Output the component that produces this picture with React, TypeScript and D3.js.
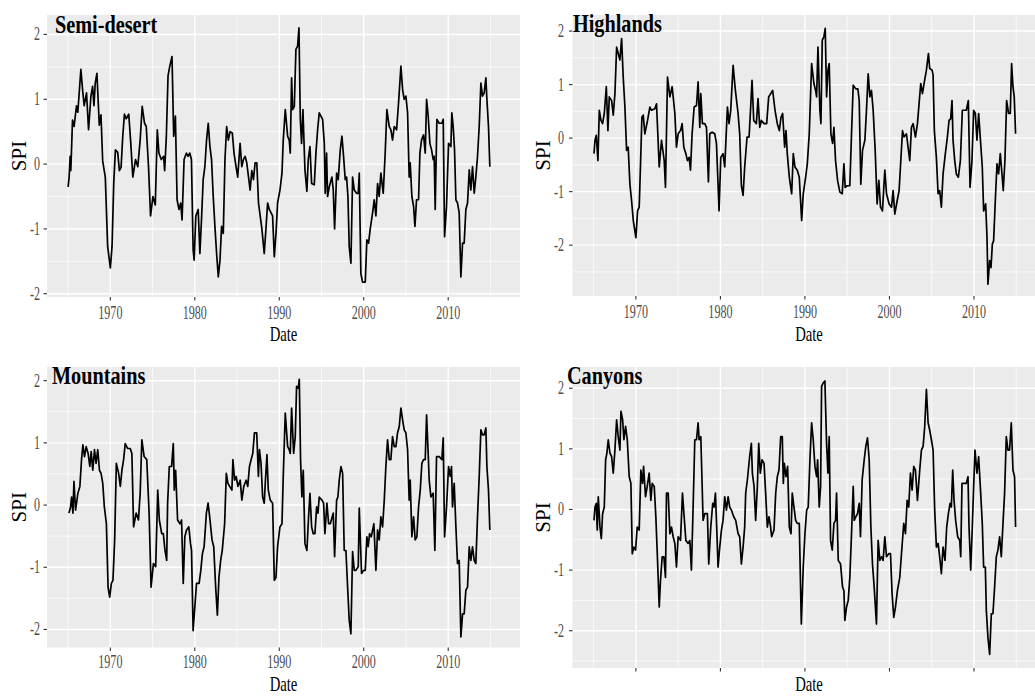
import React from 'react';
import * as d3 from 'd3';

// Regions, axis ticks
const regions = ['Semi-desert', 'Highlands', 'Mountains', 'Canyons'];
const xTickYears = [1970, 1980, 1990, 2000, 2010];
const xMinorYears = [1965, 1975, 1985, 1995, 2005, 2015];
const yTickValues = [-2, -1, 0, 1, 2];
const yMinorValues = [-2.5, -1.5, -0.5, 0.5, 1.5];

// SPI series: [decimal year, SPI]
const semiDesertSPI: [number, number][] = [
  [1965.0, -0.35], [1965.12, -0.2], [1965.24, 0.12], [1965.32, -0.1], [1965.52, 0.68], [1965.71, 0.58], [1965.99, 0.9], [1966.15, 0.8],
  [1966.51, 1.46], [1966.71, 1.15], [1966.9, 0.9], [1967.18, 1.1], [1967.42, 0.53], [1967.7, 1.05], [1967.9, 1.2], [1968.06, 0.9],
  [1968.21, 1.25], [1968.41, 1.4], [1968.69, 0.6], [1968.89, 0.76], [1969.09, 0.05], [1969.4, -0.2], [1969.68, -1.27], [1970.0, -1.6],
  [1970.2, -1.27], [1970.4, -0.3], [1970.6, 0.22], [1970.87, 0.18], [1971.07, -0.1], [1971.27, -0.05], [1971.47, 0.43], [1971.67, 0.77],
  [1971.87, 0.7], [1972.18, 0.77], [1972.42, 0.32], [1972.66, -0.2], [1972.98, 0.07], [1973.25, -0.04], [1973.53, 0.37], [1973.77, 0.89],
  [1974.05, 0.63], [1974.25, 0.58], [1974.52, -0.04], [1974.76, -0.8], [1975.04, -0.5], [1975.32, -0.63], [1975.56, 0.53], [1975.75, 0.17],
  [1976.03, 0.07], [1976.31, 0.12], [1976.43, -0.1], [1976.63, 0.43], [1976.83, 1.36], [1977.02, 1.5], [1977.3, 1.66], [1977.5, 0.43],
  [1977.7, 0.74], [1977.9, -0.55], [1978.13, -0.7], [1978.33, -0.6], [1978.49, -0.86], [1978.73, 0.07], [1979.01, 0.17], [1979.21, 0.12],
  [1979.4, 0.17], [1979.6, 0.07], [1979.8, -1.32], [1979.92, -1.48], [1980.12, -0.8], [1980.4, -0.7], [1980.6, -1.38], [1980.79, -0.86],
  [1980.99, -0.24], [1981.19, -0.04], [1981.39, 0.37], [1981.59, 0.63], [1981.79, 0.27], [1981.98, 0.07], [1982.18, -0.5], [1982.38, -0.96],
  [1982.58, -1.38], [1982.78, -1.74], [1982.98, -1.48], [1983.17, -0.96], [1983.37, -1.07], [1983.57, 0.07], [1983.77, 0.58], [1983.97, 0.37],
  [1984.17, 0.5], [1984.44, 0.48], [1984.64, 0.17], [1984.88, -0.04], [1985.08, -0.2], [1985.36, 0.32], [1985.56, -0.04], [1985.75, 0.07],
  [1985.95, 0.12], [1986.15, 0.02], [1986.55, -0.4], [1986.75, -0.1], [1986.94, -0.24], [1987.14, 0.02], [1987.34, 0.02], [1987.54, -0.6],
  [1987.74, -0.8], [1987.94, -1.0], [1988.22, -1.38], [1988.42, -1.0], [1988.62, -0.6], [1988.82, -0.7], [1989.21, -0.8], [1989.41, -1.43],
  [1989.61, -1.07], [1989.8, -0.6], [1990.08, -0.4], [1990.32, -0.14], [1990.47, 0.37], [1990.71, 0.84], [1990.99, 0.43], [1991.18, 0.37],
  [1991.3, 0.17], [1991.46, 1.33], [1991.58, 0.84], [1991.78, 0.89], [1991.97, 1.77], [1992.17, 1.82], [1992.33, 2.1], [1992.49, 0.69],
  [1992.64, 0.32], [1992.8, 0.84], [1993.04, -0.09], [1993.27, -0.42], [1993.43, 0.07], [1993.63, 0.27], [1993.83, -0.3], [1994.14, -0.32],
  [1994.34, 0.17], [1994.54, 0.53], [1994.73, 0.79], [1995.13, 0.69], [1995.33, 0.32], [1995.44, -0.45], [1995.6, 0.17], [1995.72, -0.5],
  [1995.92, -0.35], [1996.23, -0.2], [1996.39, -0.4], [1996.55, -1.0], [1996.79, -0.14], [1996.98, -0.24], [1997.22, 0.22], [1997.42, 0.43],
  [1997.61, 0.12], [1997.81, -0.24], [1997.97, -0.2], [1998.13, -0.5], [1998.28, -1.27], [1998.48, -1.53], [1998.68, -0.2], [1998.88, -0.4],
  [1999.15, -0.45], [1999.35, -0.45], [1999.47, -0.14], [1999.66, -1.69], [1999.86, -1.82], [2000.18, -1.82], [2000.37, -1.17], [2000.57, -1.22],
  [2000.77, -1.0], [2001.05, -0.75], [2001.24, -0.55], [2001.44, -0.8], [2001.64, -0.3], [2001.83, -0.5], [2002.03, -0.14], [2002.31, -0.45],
  [2002.54, 0.17], [2002.74, 0.84], [2003.02, 0.58], [2003.21, 0.53], [2003.41, 0.37], [2003.61, 0.58], [2003.89, 0.53], [2004.12, 0.94],
  [2004.4, 1.51], [2004.6, 1.15], [2004.79, 1.0], [2004.99, 1.05], [2005.19, 0.79], [2005.38, -0.2], [2005.5, 0.02], [2005.7, -0.5],
  [2005.9, -0.65], [2006.06, -0.96], [2006.25, -0.55], [2006.49, -0.55], [2006.65, 0.17], [2006.84, 0.37], [2007.08, 0.45], [2007.28, 0.17],
  [2007.44, 1.0], [2007.63, 0.74], [2007.83, 0.32], [2008.03, 0.22], [2008.22, 0.07], [2008.34, 0.12], [2008.46, -0.7], [2008.66, 0.69],
  [2008.93, 0.63], [2009.25, 0.63], [2009.41, 0.69], [2009.57, -1.12], [2009.8, -0.65], [2010.04, 0.32], [2010.32, 0.27], [2010.43, 0.79],
  [2010.59, 0.58], [2010.75, 0.22], [2010.91, -0.55], [2011.1, -0.6], [2011.3, -0.75], [2011.5, -1.74], [2011.7, -1.22], [2011.89, -1.22],
  [2012.09, -0.7], [2012.29, -0.6], [2012.49, -0.09], [2012.68, -0.4], [2012.88, -0.04], [2013.08, -0.45], [2013.27, -0.2], [2013.47, 0.12],
  [2013.67, 0.58], [2013.87, 1.25], [2014.06, 1.05], [2014.26, 1.1], [2014.46, 1.33], [2014.58, 1.0], [2014.77, 0.58], [2014.93, -0.04],
];

const highlandsSPI: [number, number][] = [
  [1965.04, -0.29], [1965.16, -0.04], [1965.31, 0.05], [1965.51, -0.42], [1965.67, 0.52], [1965.87, 0.33], [1966.06, 0.27], [1966.26, 0.46],
  [1966.5, 0.96], [1966.69, 0.14], [1966.85, 0.77], [1967.13, 0.7], [1967.32, 0.43], [1967.52, 0.83], [1967.72, 1.7], [1967.91, 1.58],
  [1968.11, 1.46], [1968.31, 1.86], [1968.5, 1.14], [1968.7, 0.58], [1968.9, -0.23], [1969.09, -0.17], [1969.29, -0.86], [1969.49, -1.17],
  [1969.69, -1.54], [1970.0, -1.86], [1970.2, -1.36], [1970.39, -1.29], [1970.55, -0.48], [1970.71, 0.39], [1970.87, 0.43], [1971.06, 0.08],
  [1971.38, 0.33], [1971.65, 0.58], [1971.85, 0.52], [1972.24, 0.55], [1972.44, 0.64], [1972.76, -0.54], [1973.03, -0.04], [1973.35, -0.42],
  [1973.5, -0.92], [1973.74, 1.14], [1974.02, 0.77], [1974.29, 0.96], [1974.61, 0.46], [1974.8, -0.17], [1975.0, 0.08], [1975.28, 0.14],
  [1975.47, 0.27], [1975.67, -0.17], [1975.91, -0.29], [1976.1, -0.42], [1976.3, -0.36], [1976.46, -0.6], [1976.65, 0.08], [1976.89, 0.58],
  [1977.17, 0.61], [1977.36, 1.05], [1977.56, 0.2], [1977.68, 0.83], [1977.87, 0.27], [1978.15, 0.27], [1978.35, 0.2], [1978.58, -0.82],
  [1978.74, 0.08], [1979.02, 0.11], [1979.33, 0.08], [1979.53, -0.1], [1979.72, -0.86], [1979.84, -1.36], [1980.04, -0.36], [1980.31, -0.29],
  [1980.51, -0.54], [1980.83, 0.58], [1981.02, 0.27], [1981.22, 0.52], [1981.5, 1.36], [1981.77, 0.89], [1982.09, 0.46], [1982.28, 0.08],
  [1982.48, -0.89], [1982.68, -1.07], [1982.87, -0.54], [1983.15, 0.02], [1983.39, 0.02], [1983.58, 0.58], [1983.74, 1.08], [1983.94, 0.33],
  [1984.25, 0.27], [1984.45, 0.74], [1984.65, 0.2], [1984.84, 0.33], [1985.16, 0.27], [1985.47, 0.27], [1985.71, 0.77], [1986.18, 0.89],
  [1986.46, 0.52], [1986.73, 0.27], [1986.97, 0.14], [1987.17, 0.39], [1987.36, 0.46], [1987.6, -0.17], [1987.76, 0.14], [1987.91, -0.29],
  [1988.15, -0.73], [1988.43, -1.04], [1988.62, -0.29], [1988.82, -0.54], [1989.09, -0.6], [1989.33, -0.73], [1989.61, -1.54], [1989.8, -1.04],
  [1990.08, -0.73], [1990.28, -0.48], [1990.51, 0.08], [1990.79, 1.39], [1991.06, 1.02], [1991.26, 0.89], [1991.38, 0.77], [1991.54, 1.7],
  [1991.77, 0.52], [1991.89, 0.27], [1992.05, 1.83], [1992.24, 1.89], [1992.4, 2.05], [1992.56, 0.77], [1992.72, 1.27], [1992.87, 1.39],
  [1993.07, 0.08], [1993.27, -0.1], [1993.43, 0.2], [1993.62, -0.42], [1993.86, -0.79], [1994.13, -1.01], [1994.41, -1.04], [1994.61, -0.48],
  [1994.76, -0.92], [1995.0, -0.89], [1995.31, -0.89], [1995.51, 0.08], [1995.71, 0.99], [1996.02, 0.92], [1996.26, 0.92], [1996.42, 0.7],
  [1996.61, -0.86], [1996.81, -0.23], [1997.09, -0.04], [1997.28, 0.52], [1997.48, 1.2], [1997.68, 0.77], [1997.87, 0.89], [1998.07, 0.52],
  [1998.31, -0.23], [1998.54, -1.23], [1998.74, -0.79], [1998.94, -1.29], [1999.17, -1.36], [1999.45, -0.6], [1999.65, -1.04], [1999.96, -1.23],
  [2000.24, -1.29], [2000.43, -0.98], [2000.63, -1.42], [2000.91, -1.17], [2001.14, -0.98], [2001.34, -0.42], [2001.54, 0.14], [2001.73, 0.02],
  [2002.01, 0.08], [2002.2, -0.17], [2002.4, -0.42], [2002.6, 0.2], [2002.8, 0.27], [2003.07, 0.02], [2003.31, 0.27], [2003.5, 0.64],
  [2003.7, 1.02], [2003.9, 0.83], [2004.09, 1.02], [2004.37, 1.27], [2004.61, 1.58], [2004.76, 1.3], [2005.04, 1.27], [2005.16, 1.18],
  [2005.31, 0.14], [2005.55, -0.36], [2005.75, -1.04], [2005.94, -0.98], [2006.14, -1.29], [2006.34, -0.67], [2006.61, -0.29], [2006.85, 0.02],
  [2007.05, 0.33], [2007.24, 0.36], [2007.4, 0.7], [2007.52, -0.04], [2007.72, -0.42], [2007.91, -0.67], [2008.15, -0.73], [2008.39, -0.42],
  [2008.62, 0.52], [2008.9, 0.52], [2009.09, 0.52], [2009.33, 0.7], [2009.53, -0.92], [2009.76, -0.42], [2009.96, 0.52], [2010.16, 0.46],
  [2010.35, -0.04], [2010.55, 0.46], [2010.79, -0.1], [2010.98, -0.54], [2011.14, -1.36], [2011.38, -1.23], [2011.54, -1.86], [2011.65, -2.73],
  [2011.85, -2.29], [2012.01, -2.42], [2012.17, -1.98], [2012.32, -1.92], [2012.52, -1.17], [2012.72, -0.48], [2012.91, -0.67], [2013.11, -0.29],
  [2013.31, -0.67], [2013.46, -0.98], [2013.66, -0.42], [2013.86, 0.7], [2014.09, 0.46], [2014.29, 0.46], [2014.45, 1.39], [2014.61, 0.96],
  [2014.76, 0.77], [2014.92, 0.08],
];

const mountainsSPI: [number, number][] = [
  [1965.1, -0.13], [1965.29, -0.03], [1965.41, 0.13], [1965.57, -0.13], [1965.69, 0.38], [1965.88, -0.08], [1966.16, 0.19], [1966.39, 0.3],
  [1966.59, 0.73], [1966.75, 0.97], [1966.94, 0.78], [1967.14, 0.94], [1967.37, 0.83], [1967.57, 0.62], [1967.73, 0.86], [1967.92, 0.56],
  [1968.12, 0.89], [1968.31, 0.67], [1968.51, 0.89], [1968.71, 0.56], [1968.9, 0.51], [1969.1, 0.35], [1969.29, -0.03], [1969.53, -0.3],
  [1969.73, -1.32], [1969.92, -1.48], [1970.12, -1.26], [1970.31, -1.21], [1970.51, -0.56], [1970.71, 0.67], [1970.98, 0.51], [1971.18, 0.3],
  [1971.37, 0.56], [1971.57, 0.73], [1971.76, 0.99], [1972.04, 0.91], [1972.35, 0.91], [1972.55, 0.83], [1972.75, -0.35], [1973.06, -0.13],
  [1973.33, -0.24], [1973.53, 0.19], [1973.73, 1.05], [1974.0, 0.78], [1974.31, 0.73], [1974.59, -0.13], [1974.82, -1.32], [1975.1, -0.94],
  [1975.37, -0.99], [1975.61, 0.24], [1975.8, -0.24], [1976.08, -0.46], [1976.27, -0.46], [1976.47, -0.73], [1976.67, -0.89], [1976.78, 0.03],
  [1976.98, 0.62], [1977.25, 0.62], [1977.45, 0.99], [1977.57, 0.24], [1977.73, 0.56], [1977.96, -0.24], [1978.24, -0.3], [1978.43, -0.24],
  [1978.63, -1.26], [1978.82, -0.51], [1979.02, -0.4], [1979.29, -0.35], [1979.49, -0.62], [1979.61, -0.73], [1979.8, -2.02], [1980.0, -1.64],
  [1980.2, -1.26], [1980.51, -1.26], [1980.71, -1.05], [1980.9, -0.78], [1981.1, -0.67], [1981.37, -0.13], [1981.57, 0.03], [1981.76, -0.19],
  [1982.04, -0.56], [1982.24, -0.67], [1982.47, -1.32], [1982.67, -1.77], [1982.86, -1.16], [1983.06, -0.89], [1983.25, -0.73], [1983.53, -0.3],
  [1983.73, 0.51], [1983.92, 0.35], [1984.12, 0.3], [1984.39, 0.24], [1984.51, 0.73], [1984.71, 0.4], [1984.9, 0.46], [1985.1, 0.3],
  [1985.37, 0.4], [1985.57, 0.08], [1985.8, 0.3], [1986.08, 0.4], [1986.27, 0.3], [1986.47, 0.62], [1986.67, 0.73], [1986.86, 0.83],
  [1987.06, 1.16], [1987.33, 1.16], [1987.53, 0.46], [1987.65, 0.89], [1987.84, 0.67], [1988.03, 0.13], [1988.22, 0.03], [1988.34, 0.35],
  [1988.54, 0.81], [1988.7, 0.24], [1988.93, 0.08], [1989.21, 0.03], [1989.41, -1.21], [1989.61, -1.16], [1989.8, -0.67], [1990.08, -0.35],
  [1990.32, -0.3], [1990.47, 0.46], [1990.71, 1.48], [1990.99, 0.94], [1991.18, 0.89], [1991.3, 0.83], [1991.46, 1.56], [1991.7, 0.83],
  [1991.89, 1.1], [1992.05, 1.91], [1992.25, 1.88], [1992.37, 2.02], [1992.52, 0.73], [1992.68, 0.13], [1992.84, 0.56], [1993.04, -0.62],
  [1993.27, -0.73], [1993.47, -0.19], [1993.63, 0.19], [1993.83, -0.35], [1994.02, -0.46], [1994.22, -0.46], [1994.42, -0.03], [1994.58, -0.13],
  [1994.73, 0.13], [1995.05, 0.08], [1995.25, 0.03], [1995.4, -0.46], [1995.64, 0.03], [1995.84, -0.3], [1996.04, -0.3], [1996.39, -0.13],
  [1996.55, -0.83], [1996.79, 0.08], [1996.94, 0.13], [1997.1, 0.4], [1997.3, 0.62], [1997.5, 0.51], [1997.69, -0.73], [1997.89, -0.73],
  [1998.09, -1.32], [1998.28, -1.85], [1998.48, -2.07], [1998.68, -0.75], [1998.88, -1.05], [1999.07, -1.05], [1999.35, -0.99], [1999.47, -0.05],
  [1999.74, -1.1], [1999.98, -1.05], [2000.18, -1.05], [2000.37, -0.51], [2000.53, -0.67], [2000.69, -0.46], [2000.89, -0.51], [2001.2, -0.3],
  [2001.44, -1.05], [2001.64, -0.4], [2001.83, -0.56], [2002.03, -0.19], [2002.23, -0.35], [2002.43, 0.08], [2002.62, 0.62], [2002.82, 1.05],
  [2003.02, 0.73], [2003.21, 0.73], [2003.41, 1.1], [2003.61, 0.94], [2003.81, 0.94], [2004.0, 1.16], [2004.2, 1.26], [2004.4, 1.56],
  [2004.6, 1.37], [2004.79, 1.21], [2004.99, 1.16], [2005.19, 0.89], [2005.38, 0.08], [2005.5, 0.4], [2005.7, -0.51], [2005.9, -0.19],
  [2006.09, -0.56], [2006.29, -0.51], [2006.49, -0.03], [2006.69, 0.24], [2006.88, 0.67], [2007.08, 0.73], [2007.28, 0.73], [2007.44, 1.45],
  [2007.63, 0.83], [2007.75, 0.4], [2007.95, 0.13], [2008.22, 0.19], [2008.42, -0.73], [2008.62, 0.78], [2008.93, 0.78], [2009.25, 0.73],
  [2009.41, 1.08], [2009.57, -0.51], [2009.8, -0.03], [2010.04, 0.62], [2010.24, 0.46], [2010.39, 0.62], [2010.51, -0.03], [2010.71, 0.35],
  [2010.91, -0.35], [2011.1, -0.94], [2011.3, -0.89], [2011.5, -2.12], [2011.7, -1.75], [2011.89, -1.75], [2012.09, -1.37], [2012.29, -1.32],
  [2012.49, -0.67], [2012.68, -0.89], [2012.88, -0.67], [2013.08, -0.89], [2013.27, -0.94], [2013.47, -0.19], [2013.67, 0.46], [2013.87, 1.21],
  [2014.06, 1.13], [2014.26, 1.13], [2014.46, 1.24], [2014.58, 0.62], [2014.77, 0.24], [2014.93, -0.4],
];

const canyonsSPI: [number, number][] = [
  [1965.04, -0.18], [1965.16, 0.04], [1965.31, 0.1], [1965.43, -0.34], [1965.55, 0.21], [1965.75, -0.29], [1965.91, -0.48], [1966.06, -0.07],
  [1966.26, 0.04], [1966.42, 0.82], [1966.57, 0.93], [1966.73, 1.15], [1966.93, 0.93], [1967.13, 0.87], [1967.32, 0.6], [1967.52, 0.98],
  [1967.72, 1.48], [1967.91, 1.2], [1968.11, 0.98], [1968.23, 1.62], [1968.43, 1.48], [1968.58, 1.15], [1968.78, 1.37], [1968.98, 1.15],
  [1969.21, 0.54], [1969.41, 0.43], [1969.57, -0.73], [1969.76, -0.62], [1969.96, -0.67], [1970.16, -0.29], [1970.39, -0.34], [1970.59, 0.65],
  [1970.79, 0.43], [1970.91, 0.71], [1971.14, 0.21], [1971.34, 0.38], [1971.57, 0.6], [1971.77, 0.15], [1971.93, 0.43], [1972.17, 0.38],
  [1972.36, -0.12], [1972.56, -0.84], [1972.76, -1.61], [1972.91, -1.17], [1973.11, -0.78], [1973.31, -0.78], [1973.5, -1.12], [1973.62, 0.27],
  [1973.82, 0.27], [1974.02, -0.4], [1974.21, -0.29], [1974.41, -0.45], [1974.61, -0.56], [1974.8, -0.95], [1975.0, -0.45], [1975.28, -0.51],
  [1975.51, 0.27], [1975.71, -0.12], [1975.91, -0.51], [1976.18, -0.56], [1976.38, -0.51], [1976.57, -1.0], [1976.77, 0.04], [1976.97, 1.15],
  [1977.17, 1.15], [1977.36, 1.43], [1977.48, 1.15], [1977.68, 1.2], [1977.95, -0.18], [1978.15, -0.07], [1978.46, -0.07], [1978.62, -0.9],
  [1978.86, -0.29], [1979.09, 0.1], [1979.25, 0.04], [1979.41, 0.27], [1979.57, -0.34], [1979.72, -0.95], [1979.92, -0.62], [1980.12, -0.34],
  [1980.31, -0.18], [1980.51, 0.21], [1980.71, -0.01], [1980.91, 0.21], [1981.1, 0.04], [1981.3, -0.01], [1981.57, -0.12], [1981.81, -0.18],
  [1982.09, -0.4], [1982.28, -0.45], [1982.48, -0.9], [1982.68, -0.62], [1982.87, -0.29], [1982.99, 0.27], [1983.19, 0.49], [1983.46, 0.87],
  [1983.66, 1.09], [1983.78, 0.6], [1983.98, 0.38], [1984.17, -0.18], [1984.37, 0.38], [1984.53, 1.09], [1984.72, 0.6], [1984.92, 0.82],
  [1985.16, 0.76], [1985.35, 0.27], [1985.55, -0.29], [1985.75, -0.12], [1985.94, -0.29], [1986.06, -0.45], [1986.34, -0.34], [1986.54, 0.27],
  [1986.73, 0.54], [1986.93, 0.65], [1987.13, 1.2], [1987.32, 1.2], [1987.44, 0.43], [1987.56, 0.76], [1987.76, 0.54], [1987.95, 0.71],
  [1988.15, -0.29], [1988.35, -0.4], [1988.5, 0.27], [1988.7, 0.04], [1988.9, -0.18], [1989.09, -0.23], [1989.33, -0.23], [1989.57, -1.89],
  [1989.8, -0.95], [1990.0, -0.4], [1990.2, -0.01], [1990.39, 0.04], [1990.59, 0.82], [1990.79, 1.43], [1990.98, 1.15], [1991.18, 0.71],
  [1991.38, 0.54], [1991.5, 0.82], [1991.69, 0.04], [1991.85, 0.38], [1991.97, 2.03], [1992.17, 2.09], [1992.36, 2.12], [1992.56, 1.09],
  [1992.72, 0.6], [1992.87, 1.2], [1993.03, -0.51], [1993.23, -0.67], [1993.43, -0.23], [1993.62, -0.18], [1993.74, 0.27], [1993.94, -0.84],
  [1994.21, -0.9], [1994.45, -1.28], [1994.61, -1.34], [1994.72, -1.83], [1994.92, -1.61], [1995.12, -1.5], [1995.31, -1.12], [1995.51, -0.4],
  [1995.71, 0.38], [1995.83, -0.18], [1996.02, -0.12], [1996.22, -0.07], [1996.42, 0.1], [1996.57, -0.45], [1996.77, 0.49], [1997.01, 0.82],
  [1997.2, 1.04], [1997.4, 1.18], [1997.6, 0.82], [1997.8, -0.29], [1997.99, -0.9], [1998.19, -1.28], [1998.46, -1.89], [1998.66, -0.51],
  [1998.86, -0.84], [1999.06, -0.78], [1999.25, -0.84], [1999.45, -0.45], [1999.65, -0.78], [1999.92, -0.73], [2000.12, -0.73], [2000.31, -1.39],
  [2000.51, -1.78], [2000.71, -1.61], [2000.94, -1.34], [2001.22, -1.12], [2001.42, -0.73], [2001.69, -0.23], [2001.89, -0.4], [2002.09, 0.15],
  [2002.28, 0.04], [2002.48, 0.6], [2002.68, 0.32], [2002.87, 0.71], [2003.07, 0.65], [2003.31, 0.15], [2003.58, 0.65], [2003.78, 0.98],
  [2003.98, 1.04], [2004.17, 1.37], [2004.37, 1.98], [2004.57, 1.43], [2004.76, 1.31], [2004.96, 1.15], [2005.16, 0.98], [2005.35, -0.01],
  [2005.55, -0.62], [2005.75, -0.56], [2005.94, -0.78], [2006.14, -1.06], [2006.34, -0.62], [2006.57, -0.84], [2006.77, -0.29], [2006.97, -0.07],
  [2007.17, 0.1], [2007.32, 0.04], [2007.48, 0.65], [2007.64, 0.15], [2007.83, -0.18], [2008.07, -0.45], [2008.31, -0.51], [2008.43, -0.78],
  [2008.58, 0.43], [2008.82, 0.43], [2009.09, 0.43], [2009.29, 0.54], [2009.41, -0.29], [2009.61, -1.0], [2009.8, -0.29], [2009.96, 0.38],
  [2010.12, 0.98], [2010.35, 0.6], [2010.55, 0.87], [2010.79, 0.27], [2010.98, -0.23], [2011.14, -0.95], [2011.34, -0.95], [2011.46, -1.67],
  [2011.65, -2.11], [2011.85, -2.39], [2012.05, -1.72], [2012.24, -1.72], [2012.44, -1.28], [2012.64, -0.78], [2012.83, -0.67], [2013.03, -0.45],
  [2013.23, -0.78], [2013.43, -0.23], [2013.62, 0.27], [2013.82, 1.2], [2014.02, 0.98], [2014.21, 0.98], [2014.41, 1.43], [2014.61, 0.65],
  [2014.8, 0.54], [2014.92, -0.29],
];

const seriesByRegion = [semiDesertSPI, highlandsSPI, mountainsSPI, canyonsSPI];

// frame of each panel on the page
const panels = [
  { left: 47, right: 520, top: 15, bottom: 297, xDomain: [1962.5, 2018.5], yDomain: [-2.05, 2.3], xLabels: true, xLabelGap: 21.5, titleX: 55, titleY: 32.5, spiX: 25.5, yLabelX: 40, dateX: 283.5, dateY: 341 },
  { left: 572.5, right: 1045, top: 15, bottom: 296, xDomain: [1962.5, 2018.4], yDomain: [-2.95, 2.3], xLabels: true, xLabelGap: 21.5, titleX: 573, titleY: 32, spiX: 549.5, yLabelX: 564, dateX: 809, dateY: 341 },
  { left: 47, right: 520, top: 367, bottom: 647.5, xDomain: [1962.5, 2018.5], yDomain: [-2.29, 2.22], xLabels: true, xLabelGap: 20, titleX: 52, titleY: 383.5, spiX: 25.5, yLabelX: 40, dateX: 283.5, dateY: 691 },
  { left: 572.5, right: 1045, top: 367, bottom: 668, xDomain: [1962.5, 2018.4], yDomain: [-2.615, 2.35], xLabels: false, xLabelGap: 20, titleX: 567, titleY: 383.5, spiX: 549.5, yLabelX: 564, dateX: 809, dateY: 691 },
];

const FONT = '"Liberation Serif", "Times New Roman", serif';

// ggplot output here was squashed sideways, so text is narrowed with scaleX
const Squeezed = ({ x, y, sx, size, anchor = 'middle', fill = '#000', weight = 'normal', children }: any) => (
  <text
    transform={`translate(${x},${y}) scale(${sx},1)`}
    fontSize={size}
    fontFamily={FONT}
    fontWeight={weight}
    textAnchor={anchor}
    fill={fill}
  >
    {children}
  </text>
);

const Panel = ({ index }: { index: number }) => {
  const p = panels[index];
  const data = seriesByRegion[index];
  const x = d3.scaleLinear().domain(p.xDomain).range([p.left, p.right]);
  const y = d3.scaleLinear().domain(p.yDomain).range([p.bottom, p.top]);
  const line = d3
    .line<[number, number]>()
    .x((d) => x(d[0]))
    .y((d) => y(d[1]));
  const yMinor = yMinorValues.filter((v) => v > p.yDomain[0] && v < p.yDomain[1]);

  return (
    <g>
      <rect x={p.left} y={p.top} width={p.right - p.left} height={p.bottom - p.top} fill="#EBEBEB" />
      {/* minor grid */}
      {yMinor.map((v) => (
        <line key={`ym${v}`} x1={p.left} x2={p.right} y1={y(v)} y2={y(v)} stroke="#fff" strokeWidth={0.7} />
      ))}
      {xMinorYears.map((t) => (
        <line key={`xm${t}`} x1={x(t)} x2={x(t)} y1={p.top} y2={p.bottom} stroke="#fff" strokeWidth={0.7} />
      ))}
      {/* major grid */}
      {yTickValues.map((v) => (
        <line key={`y${v}`} x1={p.left} x2={p.right} y1={y(v)} y2={y(v)} stroke="#fff" strokeWidth={1.4} />
      ))}
      {xTickYears.map((t) => (
        <line key={`x${t}`} x1={x(t)} x2={x(t)} y1={p.top} y2={p.bottom} stroke="#fff" strokeWidth={1.4} />
      ))}

      <path d={line(data) || ''} fill="none" stroke="#000" strokeWidth={1.7} strokeLinejoin="round" />

      {/* y axis */}
      {yTickValues.map((v) => (
        <g key={`yt${v}`}>
          <line x1={p.left - 3.5} x2={p.left} y1={y(v)} y2={y(v)} stroke="#333" strokeWidth={1.1} />
          <Squeezed x={p.yLabelX} y={y(v) + 6} sx={0.67} size={18} anchor="end" fill="#4D4D4D">
            {String(v)}
          </Squeezed>
        </g>
      ))}
      {/* x axis */}
      {xTickYears.map((t) => (
        <g key={`xt${t}`}>
          <line x1={x(t)} x2={x(t)} y1={p.bottom} y2={p.bottom + 3.5} stroke="#333" strokeWidth={1.1} />
          {p.xLabels && (
            <Squeezed x={x(t)} y={p.bottom + p.xLabelGap} sx={0.67} size={18} fill="#4D4D4D">
              {String(t)}
            </Squeezed>
          )}
        </g>
      ))}

      <Squeezed x={p.dateX} y={p.dateY} sx={0.7} size={21}>
        Date
      </Squeezed>
      <text
        transform={`translate(${p.spiX},${(p.top + p.bottom) / 2}) rotate(-90)`}
        fontSize={21}
        fontFamily={FONT}
        textAnchor="middle"
        fill="#000"
      >
        SPI
      </text>
      <Squeezed x={p.titleX} y={p.titleY} sx={0.81} size={25} anchor="start" weight="bold">
        {regions[index]}
      </Squeezed>
    </g>
  );
};

export default function App() {
  return (
    <svg
      width={1035}
      height={696}
      style={{ position: 'absolute', left: 0, top: 0, display: 'block', background: '#fff' }}
    >
      {regions.map((r, i) => (
        <Panel key={r} index={i} />
      ))}
    </svg>
  );
}
